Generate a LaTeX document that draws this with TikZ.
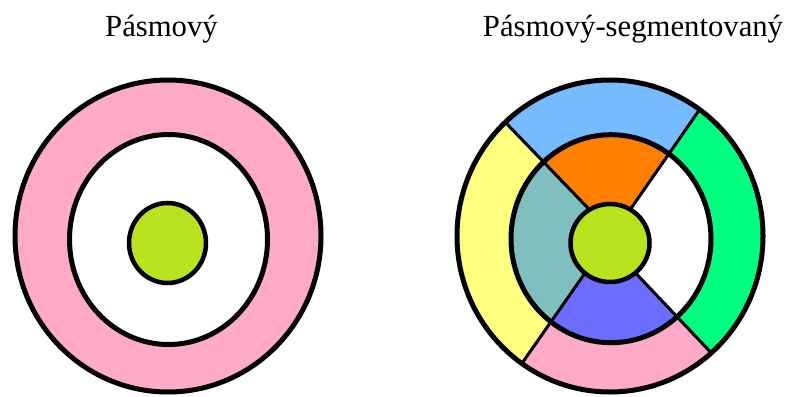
\documentclass[tikz,border=0pt]{standalone}
\usepackage{fontspec}
\setmainfont{Liberation Serif}
\definecolor{ringpink}{RGB}{255,170,200}
\definecolor{ringblue}{RGB}{119,187,255}
\definecolor{ringgreen}{RGB}{0,255,128}
\definecolor{ringyellow}{RGB}{255,255,128}
\definecolor{ringorange}{RGB}{255,128,0}
\definecolor{ringteal}{RGB}{127,191,191}
\definecolor{ringviolet}{RGB}{108,108,255}
\definecolor{corelime}{RGB}{185,227,31}
\tikzset{
  ringline/.style={draw=black, line width=5pt},
  divline/.style={draw=black, line width=3pt},
  title/.style={anchor=base, inner sep=0pt, font=\fontsize{30.7}{36}\selectfont}
}
\begin{document}
\begin{tikzpicture}[x=1pt,y=-1pt]
\useasboundingbox (0,0) rectangle (797,396);
% titles
\node[title] (t1) at (161.5,37) {Pásmový};
\node[title] (t2) at (633,37) {Pásmový-segmentovaný};

% ---------- left: banded ----------
\fill[ringpink] (168,236) ellipse [x radius=153pt, y radius=156pt];
\draw[ringline] (168,236) ellipse [x radius=153pt, y radius=156pt];
\filldraw[fill=white, line width=5pt] (168.5,239.5) ellipse [x radius=99pt, y radius=105pt];
\filldraw[fill=corelime, line width=4.5pt] (167.5,243) ellipse [x radius=38.5pt, y radius=40pt];

% ---------- right: banded-segmented ----------
% divider line points
\coordinate (TLin) at (610,231);  \coordinate (TLfar) at (350,-39);
\coordinate (TRin) at (607,243);  \coordinate (TRfar) at (825,-71);
\coordinate (BRin) at (610,246);  \coordinate (BRfar) at (861,511);
\coordinate (BLin) at (606,243);  \coordinate (BLfar) at (402,535);

\begin{scope}
  \clip (610,236) ellipse [x radius=153pt, y radius=156pt];
  \fill[ringblue]   (TLin) -- (TLfar) -- (TRfar) -- (TRin) -- cycle;
  \fill[ringgreen]  (TRin) -- (TRfar) -- (BRfar) -- (BRin) -- cycle;
  \fill[ringpink]   (BRin) -- (BRfar) -- (BLfar) -- (BLin) -- cycle;
  \fill[ringyellow] (BLin) -- (BLfar) -- (TLfar) -- (TLin) -- cycle;
\end{scope}
\begin{scope}
  \clip (611,238.7) ellipse [x radius=100pt, y radius=104pt];
  \fill[ringorange] (TLin) -- (TLfar) -- (TRfar) -- (TRin) -- cycle;
  \fill[white]      (TRin) -- (TRfar) -- (BRfar) -- (BRin) -- cycle;
  \fill[ringviolet] (BRin) -- (BRfar) -- (BLfar) -- (BLin) -- cycle;
  \fill[ringteal]   (BLin) -- (BLfar) -- (TLfar) -- (TLin) -- cycle;
\end{scope}
\begin{scope}
  \clip (610,236) ellipse [x radius=153pt, y radius=156pt];
  \draw[divline] (TLin) -- (TLfar);
  \draw[divline] (TRin) -- (TRfar);
  \draw[divline] (BRin) -- (BRfar);
  \draw[divline] (BLin) -- (BLfar);
\end{scope}
\draw[ringline] (610,236) ellipse [x radius=153pt, y radius=156pt];
\draw[ringline] (611,238.7) ellipse [x radius=100pt, y radius=104pt];
\filldraw[fill=corelime, line width=4.5pt] (610,243) ellipse [x radius=39.5pt, y radius=39pt];
\end{tikzpicture}
\end{document}
